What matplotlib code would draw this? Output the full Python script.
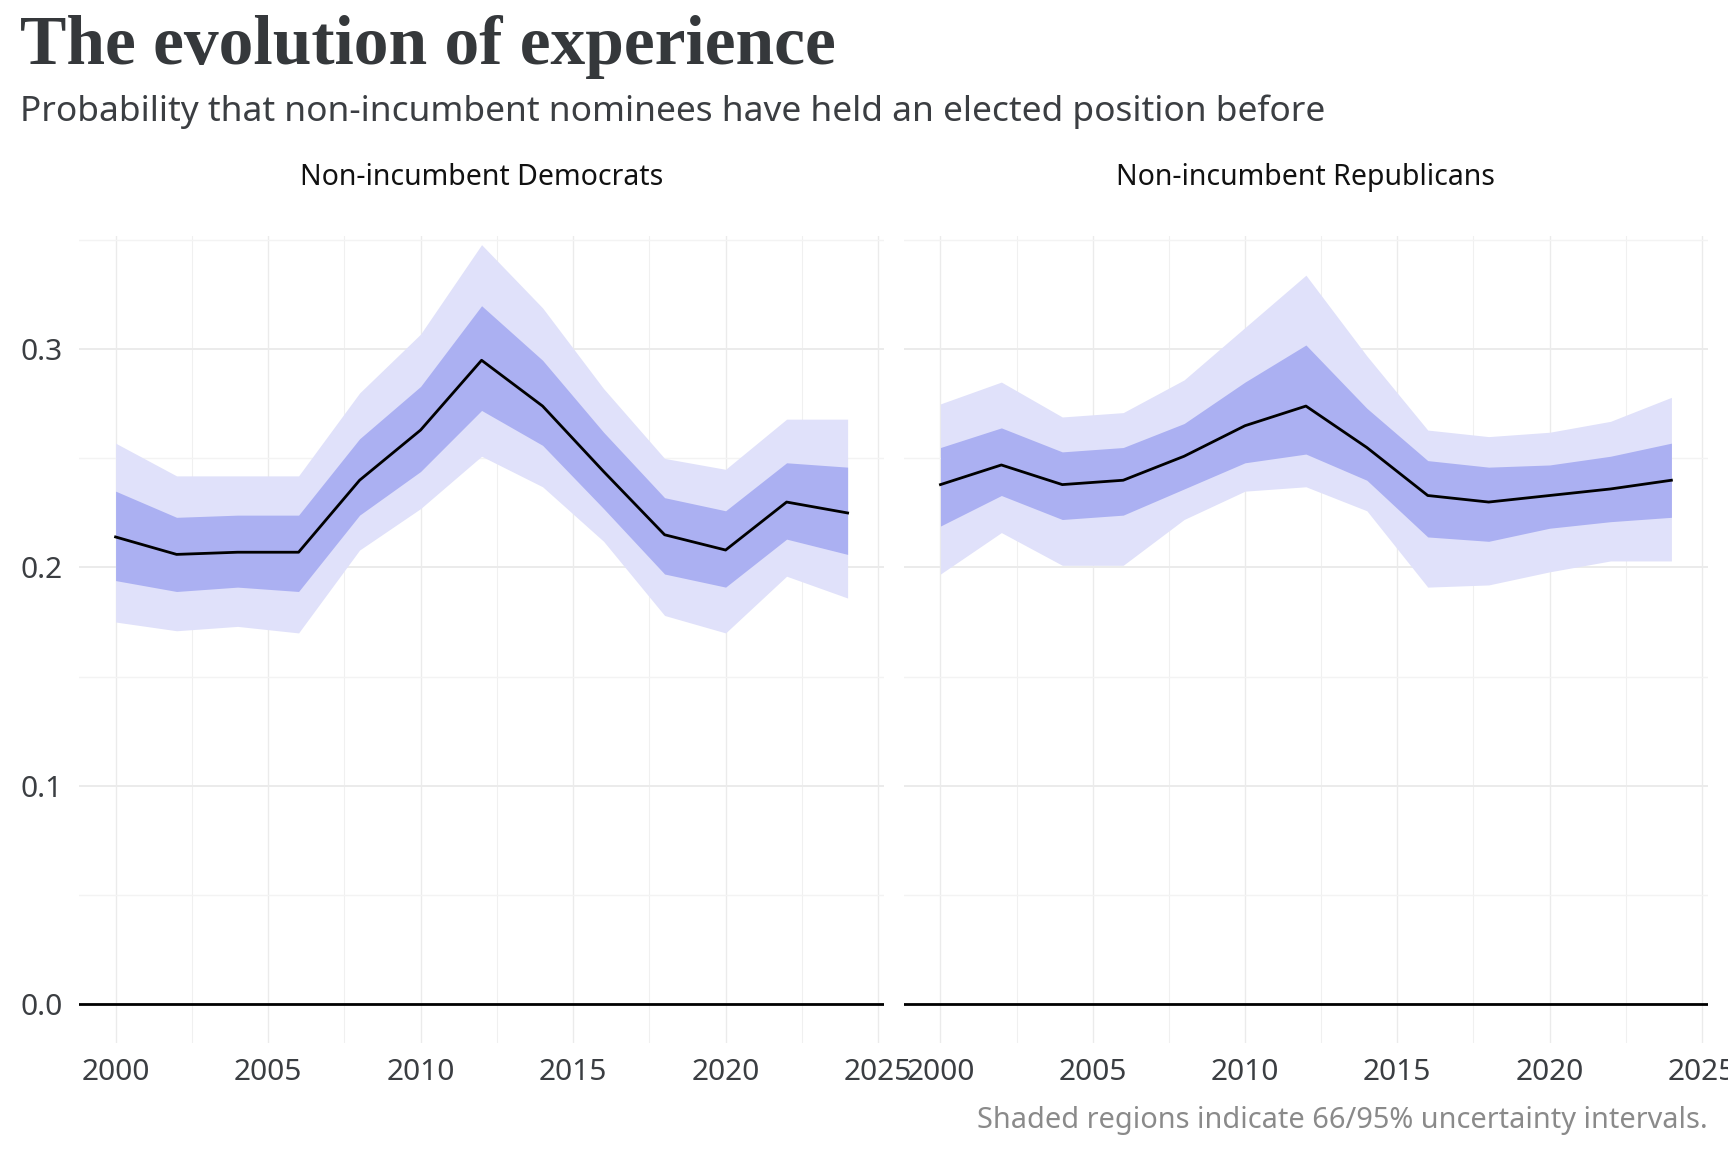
import matplotlib
matplotlib.use("Agg")
import matplotlib.pyplot as plt
from matplotlib.ticker import MultipleLocator

plt.rcParams['font.family'] = ['Noto Sans', 'DejaVu Sans']

years = [2000, 2002, 2004, 2006, 2008, 2010, 2012, 2014, 2016, 2018, 2020, 2022, 2024]
panels = ["Non-incumbent Democrats", "Non-incumbent Republicans"]

# Democrats
dem_mean = [0.214, 0.206, 0.207, 0.207, 0.240, 0.263, 0.295, 0.274, 0.244, 0.215, 0.208, 0.230, 0.225]
dem_lo95 = [0.175, 0.171, 0.173, 0.170, 0.208, 0.227, 0.251, 0.237, 0.212, 0.178, 0.170, 0.196, 0.186]
dem_hi95 = [0.257, 0.242, 0.242, 0.242, 0.280, 0.307, 0.348, 0.319, 0.282, 0.250, 0.245, 0.268, 0.268]
dem_lo66 = [0.194, 0.189, 0.191, 0.189, 0.224, 0.244, 0.272, 0.256, 0.227, 0.197, 0.191, 0.213, 0.206]
dem_hi66 = [0.235, 0.223, 0.224, 0.224, 0.259, 0.283, 0.320, 0.295, 0.262, 0.232, 0.226, 0.248, 0.246]

# Republicans
rep_mean = [0.238, 0.247, 0.238, 0.240, 0.251, 0.265, 0.274, 0.255, 0.233, 0.230, 0.233, 0.236, 0.240]
rep_lo95 = [0.197, 0.216, 0.201, 0.201, 0.222, 0.235, 0.237, 0.226, 0.191, 0.192, 0.198, 0.203, 0.203]
rep_hi95 = [0.275, 0.285, 0.269, 0.271, 0.286, 0.310, 0.334, 0.297, 0.263, 0.260, 0.262, 0.267, 0.278]
rep_lo66 = [0.219, 0.233, 0.222, 0.224, 0.236, 0.248, 0.252, 0.240, 0.214, 0.212, 0.218, 0.221, 0.223]
rep_hi66 = [0.255, 0.264, 0.253, 0.255, 0.266, 0.285, 0.302, 0.273, 0.249, 0.246, 0.247, 0.251, 0.257]

series = [
    (dem_mean, dem_lo95, dem_hi95, dem_lo66, dem_hi66),
    (rep_mean, rep_lo95, rep_hi95, rep_lo66, rep_hi66),
]

LIGHT = "#E0E1FA"
DARK = "#ABB0F2"
GRID = "#EBEBEB"
TEXT = "#3B3E42"

fig = plt.figure(figsize=(17.28, 11.52), dpi=100)
positions = [[0.0457, 0.0946, 0.4660, 0.7006], [0.5231, 0.0946, 0.4653, 0.7006]]

for i, (pos, name, s) in enumerate(zip(positions, panels, series)):
    mean, lo95, hi95, lo66, hi66 = s
    ax = fig.add_axes(pos)
    ax.fill_between(years, lo95, hi95, color=LIGHT, lw=0, zorder=2)
    ax.fill_between(years, lo66, hi66, color=DARK, lw=0, zorder=3)
    ax.plot(years, mean, color="black", lw=2.0, zorder=4)
    ax.axhline(0, color="black", lw=2, zorder=4)

    ax.set_xlim(1998.8, 2025.2)
    ax.set_ylim(-0.018, 0.352)
    ax.xaxis.set_major_locator(MultipleLocator(5))
    ax.xaxis.set_minor_locator(MultipleLocator(2.5))
    ax.yaxis.set_major_locator(MultipleLocator(0.1))
    ax.yaxis.set_minor_locator(MultipleLocator(0.05))
    ax.grid(which="major", axis="y", color=GRID, lw=1.4, zorder=0)
    ax.grid(which="minor", axis="y", color="#F3F3F3", lw=1.0, zorder=0)
    ax.grid(which="major", axis="x", color=GRID, lw=1.0, zorder=0)
    ax.grid(which="minor", axis="x", color="#F0F0F0", lw=0.8, zorder=0)
    ax.set_axisbelow(True)
    for sp in ax.spines.values():
        sp.set_visible(False)
    ax.tick_params(which="both", length=0)
    ax.tick_params(axis="x", labelsize=21.5, labelcolor=TEXT, pad=11)
    ax.tick_params(axis="y", labelsize=21.5, labelcolor=TEXT, pad=12)
    ax.yaxis.set_major_formatter(lambda v, p: f"{v:.1f}")
    if i == 1:
        ax.set_yticklabels([])
    fig.text(pos[0] + pos[2] / 2, 0.839, name, ha="center", va="baseline",
             fontsize=20.5, color="#111111")

fig.text(0.0116, 0.9444, "The evolution of experience", fontsize=50,
         fontweight="bold", family=["Liberation Serif", "DejaVu Serif"],
         color="#35383B", ha="left", va="baseline")
fig.text(0.0116, 0.895, "Probability that non-incumbent nominees have held an elected position before",
         fontsize=25.4, color=TEXT, ha="left", va="baseline")
fig.text(0.9884, 0.0208, "Shaded regions indicate 66/95% uncertainty intervals.",
         fontsize=20.8, color="#8A8A8A", ha="right", va="baseline")

fig.savefig("out.png", dpi=100)
